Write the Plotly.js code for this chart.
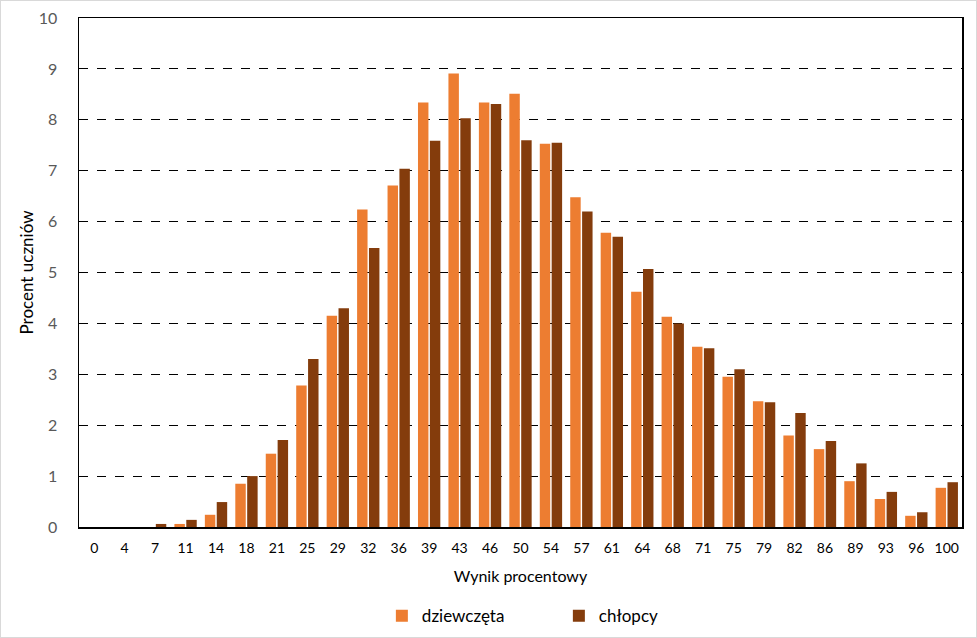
<!DOCTYPE html>
<html>
<head>
<meta charset="utf-8">
<script src="https://cdn.plot.ly/plotly-3.0.1.min.js"></script>
<style>
html,body{margin:0;padding:0;background:#fff;}
#chart{width:977px;height:638px;}
#frame{position:absolute;left:0;top:0;width:977px;height:638px;box-sizing:border-box;border:1px solid #d9d9d9;pointer-events:none;}
</style>
</head>
<body>
<div id="chart"></div>
<div id="frame"></div>
<script>
const categories = ["0","4","7","11","14","18","21","25","29","32","36","39","43","46","50","54","57","61","64","68","71","75","79","82","86","89","93","96","100"];
const girls = [0,0,0,0.06,0.24,0.85,1.44,2.78,4.15,6.24,6.71,8.34,8.91,8.34,8.51,7.53,6.48,5.78,4.62,4.13,3.54,2.95,2.47,1.80,1.53,0.90,0.55,0.22,0.77];
const boys  = [0,0,0.06,0.14,0.49,1.00,1.71,3.30,4.30,5.48,7.04,7.59,8.03,8.31,7.60,7.55,6.20,5.70,5.07,4.00,3.51,3.10,2.45,2.24,1.69,1.25,0.69,0.29,0.88];
const seriesNames = ["dziewczęta","chłopcy"];
const yTicks = [0,1,2,3,4,5,6,7,8,9,10];

const font = "Lato, 'Open Sans', sans-serif";
const traces = [
  {type:"bar", x:categories, y:girls, name:seriesNames[0], marker:{color:"#ED7D31"}},
  {type:"bar", x:categories, y:boys, name:seriesNames[1], marker:{color:"#843C0C"}}
];
const layout = {
  width:977, height:638,
  margin:{l:79, r:15, t:18, b:111, autoexpand:false},
  paper_bgcolor:"#fff", plot_bgcolor:"#fff",
  barmode:"group", bargap:0.22, bargroupgap:0.12,
  font:{family:font, size:14, color:"#000"},
  showlegend:true,
  legend:{orientation:"h", x:0.343, xanchor:"left", y:-0.14, yanchor:"top",
          font:{family:font, size:17, color:"#000"}, entrywidth:132, entrywidthmode:"pixels", traceorder:"normal"},
  xaxis:{type:"category", automargin:false, showline:true, linecolor:"#000", linewidth:1.5, mirror:true,
         ticks:"", showgrid:false, tickfont:{family:font, size:14, color:"#000"}, ticklabelstandoff:8,
         title:{text:"Wynik procentowy", font:{family:font, size:16, color:"#000"}, standoff:15}},
  yaxis:{range:[0,10], automargin:false, tickvals:yTicks, showline:true, linecolor:"#000", linewidth:1.5, mirror:true,
         ticks:"", showgrid:true, gridcolor:"#000", griddash:"dash", gridwidth:1,
         zeroline:false,
         tickfont:{family:font, size:16, color:"#595959"}, ticklabelstandoff:17,
         title:{text:"Procent uczniów", font:{family:font, size:17, color:"#000"}, standoff:1}}
};
Plotly.newPlot("chart", traces, layout, {displayModeBar:false, staticPlot:true});
</script>
</body>
</html>
